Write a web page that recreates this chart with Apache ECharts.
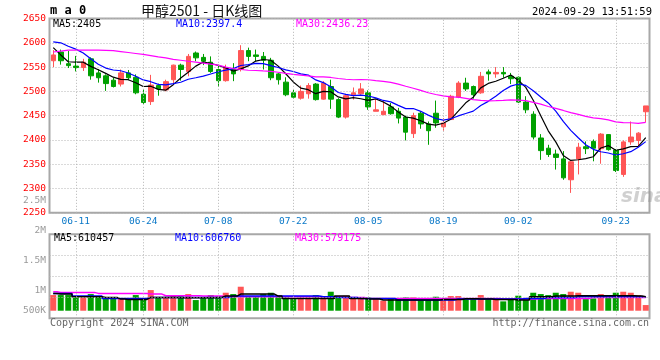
<!DOCTYPE html>
<html><head><meta charset="utf-8">
<script src="https://cdn.jsdelivr.net/npm/echarts@6/dist/echarts.min.js"></script>
<style>html,body{margin:0;padding:0;background:#fff}#c{width:660px;height:360px}</style>
</head><body><div id="c"></div>
<script>
const dates = ['06-05','06-06','06-07','06-11','06-12','06-13','06-14','06-17','06-18','06-19','06-20','06-21','06-24','06-25','06-26','06-27','06-28',
'07-01','07-02','07-03','07-04','07-05','07-08','07-09','07-10','07-11','07-12','07-15','07-16','07-17','07-18','07-19','07-22','07-23','07-24','07-25','07-26','07-29','07-30','07-31',
'08-01','08-02','08-05','08-06','08-07','08-08','08-09','08-12','08-13','08-14','08-15','08-16','08-19','08-20','08-21','08-22','08-23','08-26','08-27','08-28','08-29','08-30',
'09-02','09-03','09-04','09-05','09-06','09-09','09-10','09-11','09-12','09-13','09-18','09-19','09-20','09-23','09-24','09-25','09-26','09-27'];
const gridDates = ['06-11','06-24','07-08','07-22','08-05','08-19','09-02','09-23'];
const opens = [2563,2581,2557,2552,2549,2567,2538,2532,2523,2515,2538,2529,2494,2479,2512,2503,2524,2554,2541,2579,
2570,2560,2545,2522,2545,2545,2584,2575,2572,2564,2536,2519,2497,2486,2495,2515,2484,2510,2483,2447,
2493,2495,2497,2459,2452,2468,2459,2447,2413,2455,2433,2455,2427,2442,2488,2517,2510,2497,2540,2536,
2539,2531,2529,2478,2453,2404,2383,2371,2361,2318,2361,2386,2397,2382,2411,2379,2329,2396,2399,2458];
const closes = [2575,2563,2553,2549,2560,2532,2528,2516,2510,2538,2528,2497,2477,2513,2505,2520,2554,2545,2572,2569,
2562,2541,2522,2548,2536,2584,2572,2572,2564,2528,2524,2493,2488,2500,2512,2483,2517,2484,2447,2491,
2497,2505,2468,2462,2459,2454,2445,2416,2450,2433,2419,2435,2435,2490,2517,2505,2493,2531,2536,2539,
2536,2526,2478,2462,2406,2378,2370,2364,2322,2355,2385,2382,2383,2412,2380,2337,2396,2406,2414,2470];
const highs = [2585,2586,2583,2573,2567,2570,2546,2535,2528,2545,2544,2535,2504,2534,2516,2524,2555,2557,2577,2582,
2577,2572,2555,2555,2558,2595,2590,2586,2581,2569,2538,2529,2503,2512,2517,2517,2521,2524,2486,2495,
2508,2517,2502,2483,2481,2476,2466,2450,2456,2459,2438,2481,2445,2493,2521,2528,2512,2540,2545,2550,
2550,2538,2531,2490,2459,2412,2390,2380,2377,2356,2394,2397,2401,2414,2412,2381,2399,2438,2416,2470];
const lows = [2550,2555,2548,2541,2542,2524,2518,2501,2508,2510,2523,2494,2474,2472,2491,2500,2515,2522,2531,2562,
2554,2538,2509,2520,2521,2541,2562,2562,2545,2523,2514,2490,2485,2483,2485,2481,2483,2464,2445,2444,
2483,2493,2462,2459,2452,2452,2434,2399,2404,2423,2390,2425,2419,2441,2486,2501,2485,2495,2522,2528,
2528,2515,2476,2455,2401,2359,2365,2339,2318,2291,2329,2371,2356,2351,2378,2334,2324,2390,2387,2437];
const ma5 = [2590,2575,2561,2560,2560.0,2551.4,2544.4,2537.0,2529.2,2524.8,2524.0,2517.8,2510.0,2510.6,2504.0,2502.4,2513.8,2527.4,2539.2,2552.0,
2560.4,2557.8,2553.2,2548.4,2541.8,2546.2,2552.4,2562.4,2565.6,2564.0,2552.0,2536.2,2519.4,2506.6,2503.4,2495.2,2500.0,2499.2,2488.6,2484.4,
2487.2,2484.8,2481.6,2484.6,2478.2,2469.6,2457.6,2447.2,2444.8,2439.6,2432.6,2430.6,2434.4,2442.4,2459.2,2476.4,2488.0,2507.2,2516.4,2520.8,
2527.0,2533.6,2523.0,2508.2,2481.6,2450.0,2418.8,2396.0,2368.0,2357.8,2359.2,2361.6,2365.4,2383.4,2388.4,2378.8,2381.6,2386.2,2386.6,2404.6];
const ma10 = [2602,2600,2593,2587,2579,2567,2556,2548,2544,2542.4,2537.7,2531.1,2523.5,2519.9,2514.4,2513.2,2515.8,2518.7,2524.9,2528.0,
2531.4,2535.8,2540.3,2543.8,2546.9,2553.3,2555.1,2557.8,2557.0,2552.9,2549.1,2544.3,2540.9,2536.1,2533.7,2523.6,2518.1,2509.3,2497.6,2493.9,
2491.2,2492.4,2490.4,2486.6,2481.3,2478.4,2471.2,2464.4,2464.7,2458.9,2451.1,2444.1,2440.8,2443.6,2449.4,2454.5,2459.3,2470.8,2479.4,2490.0,
2501.7,2510.8,2515.1,2512.3,2501.2,2488.5,2476.2,2459.5,2438.1,2419.7,2404.6,2390.2,2380.7,2375.7,2373.1,2369.0,2371.6,2375.8,2385.0,2396.5];
const ma30 = [2581,2583,2585,2585,2585,2585,2585,2584.5,2584,2582,2580,2578,2576,2573.5,2571,2569,2566,2564,2562,2560,
2558,2556,2554,2550,2547,2545,2543.5,2543,2542,2541.1,2539.4,2537.1,2534.9,2533.3,2531.7,2530.0,2529.7,2528.6,2526.5,2524.9,
2523.9,2524.2,2523.9,2522.2,2520.6,2518.4,2514.8,2510.5,2506.4,2501.9,2497.1,2493.6,2490.7,2488.8,2488.1,2485.5,2482.9,2481.5,2480.6,2480.9,
2481.3,2482.4,2482.1,2480.8,2477.3,2473.8,2468.9,2464.9,2460.7,2456.2,2452.5,2448.4,2445.5,2443.9,2441.2,2437.3,2435.7,2435.4,2434.2,2436.2];
const volumes = [683000,683000,683000,581000,581000,726000,610000,581000,581000,508000,
508000,683000,508000,900000,581000,581000,683000,639000,726000,465000,
566000,683000,610000,784000,726000,1046000,610000,610000,726000,784000,
610000,581000,508000,581000,581000,683000,639000,828000,581000,654000,
581000,537000,581000,508000,436000,537000,508000,581000,581000,465000,
465000,610000,465000,639000,639000,537000,537000,683000,537000,508000,
407000,508000,654000,465000,784000,726000,683000,784000,726000,828000,
784000,508000,537000,726000,581000,784000,828000,784000,683000,247000];
const volMa5 = [755000,726000,726000,610000,610000,610000,610000,581000,581000,508000,
494000,494000,494000,581000,581000,581000,581000,566000,566000,566000,
566000,566000,581000,639000,639000,726000,726000,726000,726000,726000,
639000,537000,537000,537000,537000,537000,537000,537000,639000,639000,
537000,537000,508000,508000,465000,465000,465000,465000,465000,465000,
465000,465000,494000,494000,494000,523000,523000,508000,508000,494000,
494000,494000,465000,465000,610000,610000,610000,639000,639000,639000,
654000,654000,654000,654000,654000,654000,654000,654000,639000,610457];
const volMa10 = [755000,755000,755000,639000,639000,639000,639000,537000,537000,537000,
537000,537000,537000,581000,581000,581000,581000,581000,581000,581000,
581000,581000,581000,581000,639000,639000,639000,639000,639000,639000,
639000,639000,639000,639000,639000,639000,610000,610000,581000,581000,
581000,537000,537000,537000,537000,537000,465000,465000,465000,465000,
465000,465000,465000,465000,508000,508000,508000,508000,508000,508000,
508000,508000,508000,537000,537000,537000,581000,581000,581000,581000,
610000,610000,610000,610000,610000,610000,610000,610000,610000,606760];
const volMa30 = [828000,799000,799000,799000,799000,799000,755000,755000,755000,755000,
755000,755000,755000,726000,726000,654000,654000,654000,654000,654000,
639000,639000,639000,610000,610000,610000,610000,610000,610000,610000,
610000,610000,610000,610000,610000,610000,610000,610000,610000,581000,
581000,581000,537000,537000,537000,537000,537000,537000,537000,537000,
537000,537000,537000,537000,537000,537000,537000,537000,537000,537000,
508000,508000,508000,508000,508000,537000,537000,537000,537000,537000,
537000,537000,581000,581000,581000,581000,581000,581000,581000,579175];
const volTickValues = [500000,1000000,1500000,2000000,2500000];
const volTickLabels = ['500K','1M','1.5M','2M','2.5M'];
const volGridValues = [585000,1500000,2415000];
const titleText = '甲醇2501 - 日K线图';
const symbolText = 'm a 0';
const timeText = '2024-09-29 13:51:59';
const mainMaTexts = ['MA5:2405','MA10:2397.4','MA30:2436.23'];
const volMaTexts = ['MA5:610457','MA10:606760','MA30:579175'];

const RED = '#ff5656', GREEN = '#00a000', GRIDC = '#b4b4b4', BORDER = '#a8a8a8', BLUE = '#0a78c8';
const MONO = "'DejaVu Sans Mono','Liberation Mono',monospace";
const isGridDate = (i) => gridDates.indexOf(dates[i]) >= 0;
const dotted = () => ({color: GRIDC, type: [1, 2], width: 1});
const clear = () => ({color: 'rgba(255,255,255,0)', width: 1});
const maColors = ['#000000', '#0000ff', '#ff00ff'];

const candleData = dates.map((d, i) => [opens[i], closes[i], lows[i], highs[i]]);
const volData = volumes.map((v, i) => ({value: v, itemStyle: {color: closes[i] >= opens[i] ? RED : GREEN}}));
const vMarks = (extra) => ({
  symbol: 'none', silent: true, label: {show: false}, lineStyle: dotted(),
  data: gridDates.map(d => ({xAxis: d})).concat(extra || [])
});

const chart = echarts.init(document.getElementById('c'));
const LEFT = 49.5, WIDTH = 600, BAND = WIDTH / dates.length;
const MAIN = {top: 18.5, height: 194.3}, VOL = {top: 234.3, height: 84};
const full = (g, extra) => Object.assign({left: LEFT, width: WIDTH}, g, extra);
const xCat = (gi, showLabel) => ({
  type: 'category', gridIndex: gi, data: dates, boundaryGap: true,
  axisLine: {show: false}, axisTick: {show: false},
  axisLabel: {show: showLabel, interval: (i) => isGridDate(i), color: BLUE, fontSize: 9.5, fontFamily: MONO, margin: 4},
  splitLine: {show: false}
});
const txt = (x, y, text, font, fill, align, extra) => ({
  type: 'text', x: x, y: y, z: 100,
  style: Object.assign({text: text, font: font, fill: fill, align: align || 'left', verticalAlign: 'middle'}, extra || {})
});

chart.setOption({
  animation: false,
  backgroundColor: '#ffffff',
  grid: [
    full(MAIN, {show: true, borderColor: BORDER, borderWidth: 2}),
    full(VOL, {show: true, borderColor: BORDER, borderWidth: 2}),
    full({top: 200.7, height: 120}, {show: false})
  ],
  xAxis: [xCat(0, true), xCat(1, false),
    {type: 'category', gridIndex: 2, data: dates, show: false}],
  yAxis: [
    {type: 'value', gridIndex: 0, min: 2250, max: 2650, interval: 50,
     axisLine: {show: false}, axisTick: {show: false},
     axisLabel: {color: '#ff0000', fontSize: 9.5, fontFamily: MONO, margin: 3.5, formatter: (v) => String(v)},
     splitLine: {show: true, lineStyle: dotted()}},
    {type: 'value', gridIndex: 1, min: -330000, max: 3330000,
     axisLine: {show: false}, axisTick: {show: false}, axisLabel: {show: false}, splitLine: {show: false}},
    {type: 'value', gridIndex: 2, min: 500000, max: 2500000, interval: 500000,
     axisLine: {show: false}, axisTick: {show: false}, splitLine: {show: false},
     axisLabel: {color: '#9a9a9a', fontSize: 9.5, fontFamily: MONO, margin: 3.5,
       formatter: (v) => {
         const t = volTickLabels[volTickValues.indexOf(v)] || '';
         return v === volTickValues[0] ? '{lo|' + t + '}' : t;
       },
       rich: {lo: {color: '#9a9a9a', fontSize: 9.5, fontFamily: MONO, padding: [0, 0, 21, 0]}}}}
  ],
  series: [
    {type: 'candlestick', xAxisIndex: 0, yAxisIndex: 0, data: candleData, barWidth: 5,
     itemStyle: {color: RED, color0: GREEN, borderColor: RED, borderColor0: GREEN, borderWidth: 1}},
    {type: 'line', xAxisIndex: 0, yAxisIndex: 0, data: ma5, symbol: 'none', lineStyle: {color: maColors[0], width: 1.2},
     markLine: vMarks()},
    {type: 'line', xAxisIndex: 0, yAxisIndex: 0, data: ma10, symbol: 'none', lineStyle: {color: maColors[1], width: 1.2}},
    {type: 'line', xAxisIndex: 0, yAxisIndex: 0, data: ma30, symbol: 'none', lineStyle: {color: maColors[2], width: 1.2}},
    {type: 'bar', xAxisIndex: 1, yAxisIndex: 1, data: volData, barWidth: 6},
    {type: 'line', xAxisIndex: 1, yAxisIndex: 1, data: volMa30, step: 'middle', symbol: 'none', lineStyle: {color: maColors[2], width: 1.5}},
    {type: 'line', xAxisIndex: 1, yAxisIndex: 1, data: volMa10, step: 'middle', symbol: 'none', lineStyle: {color: maColors[1], width: 1.5}},
    {type: 'line', xAxisIndex: 1, yAxisIndex: 1, data: volMa5, step: 'middle', symbol: 'none', lineStyle: {color: maColors[0], width: 1.5},
     markLine: vMarks(volGridValues.map(v => ({yAxis: v})))},
    {type: 'line', xAxisIndex: 2, yAxisIndex: 2, data: [], symbol: 'none'}
  ],
  graphic: [
    txt(50, 11, symbolText, 'bold 12px ' + MONO, '#000'),
    txt(141, 11, titleText, '14px "Noto Sans CJK SC"', '#111'),
    txt(652, 12, timeText, '10.5px ' + MONO, '#000', 'right'),
    txt(53, 24.5, mainMaTexts[0], '10px ' + MONO, maColors[0]),
    txt(176, 24.5, mainMaTexts[1], '10px ' + MONO, maColors[1]),
    txt(296, 24.5, mainMaTexts[2], '10px ' + MONO, maColors[2]),
    txt(54, 238.5, volMaTexts[0], '10px ' + MONO, maColors[0]),
    txt(175, 238.5, volMaTexts[1], '10px ' + MONO, maColors[1]),
    txt(295, 238.5, volMaTexts[2], '10px ' + MONO, maColors[2]),
    txt(50, 323.5, 'Copyright 2024 SINA.COM', '10px ' + MONO, '#666'),
    txt(649, 323.5, 'http://finance.sina.com.cn', '10px ' + MONO, '#666', 'right'),
    txt(621, 197, 'sina', 'italic bold 20px "DejaVu Sans"', 'rgba(150,150,150,0.45)')
  ]
});
</script></body></html>
